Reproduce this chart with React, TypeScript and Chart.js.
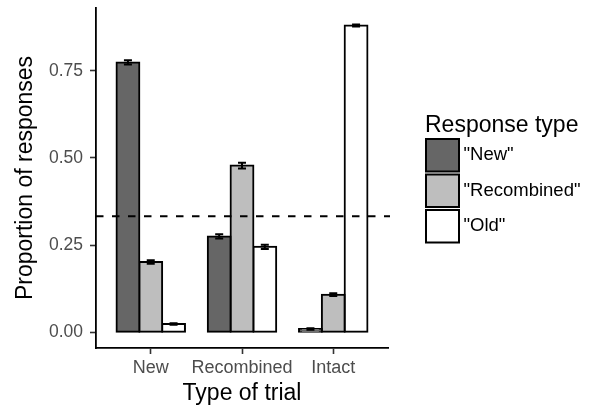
import React, { useEffect, useRef } from "react";
import { Chart, registerables } from "chart.js";

Chart.register(...registerables);

const CATEGORIES = ["New", "Recombined", "Intact"];
const SERIES_LABELS = ['"New"', '"Recombined"', '"Old"'];
const NEW_VALUES = [0.774, 0.275, 0.0095];
const RECOMBINED_VALUES = [0.2015, 0.478, 0.108];
const OLD_VALUES = [0.024, 0.245, 0.88];
const NEW_ERRORS = [0.006, 0.006, 0.002];
const RECOMBINED_ERRORS = [0.005, 0.008, 0.004];
const OLD_ERRORS = [0.002, 0.006, 0.003];
const Y_TICKS = [0, 0.25, 0.5, 0.75];
const CHANCE_LEVEL = 0.333;
const SERIES_COLORS = ["#666666", "#BEBEBE", "#FFFFFF"];

const FONT = "'Liberation Sans', Arial, sans-serif";
const BORDER_W = 2;

const hlinePlugin = {
  id: "chanceLine",
  afterDatasetsDraw(chart: any) {
    const { ctx, chartArea } = chart;
    const y = chart.scales.y.getPixelForValue(CHANCE_LEVEL);
    ctx.save();
    ctx.strokeStyle = "#000";
    ctx.lineWidth = 2;
    ctx.setLineDash([7.5, 8.5]);
    ctx.beginPath();
    ctx.moveTo(chartArea.left, y);
    ctx.lineTo(chartArea.right + 2, y);
    ctx.stroke();
    ctx.restore();
  },
};

const errorBarPlugin = {
  id: "errorBars",
  afterDatasetsDraw(chart: any) {
    const { ctx } = chart;
    const yScale = chart.scales.y;
    chart.data.datasets.forEach((ds: any, i: number) => {
      const meta = chart.getDatasetMeta(i);
      meta.data.forEach((bar: any, j: number) => {
        const v = ds.data[j].y;
        const e = ds.errors[j];
        const top = yScale.getPixelForValue(v + e);
        const bot = yScale.getPixelForValue(v - e);
        const hw = 4;
        ctx.save();
        ctx.strokeStyle = "#000";
        ctx.lineWidth = 2;
        ctx.beginPath();
        ctx.moveTo(bar.x, top);
        ctx.lineTo(bar.x, bot);
        ctx.moveTo(bar.x - hw, top);
        ctx.lineTo(bar.x + hw, top);
        ctx.moveTo(bar.x - hw, bot);
        ctx.lineTo(bar.x + hw, bot);
        ctx.stroke();
        ctx.restore();
      });
    });
  },
};

const legendPlugin = {
  id: "ggLegend",
  afterDraw(chart: any) {
    const { ctx } = chart;
    ctx.save();
    ctx.fillStyle = "#000";
    ctx.textAlign = "left";
    ctx.textBaseline = "alphabetic";
    ctx.font = `23px ${FONT}`;
    ctx.fillText("Response type", 425, 131.5);
    const keyX = 425;
    const keyW = 35;
    const keyTop = 137.5;
    const keyH = 35.5;
    chart.data.datasets.forEach((ds: any, i: number) => {
      const y0 = keyTop + i * keyH;
      ctx.fillStyle = ds.backgroundColor;
      ctx.fillRect(keyX + 1, y0 + 1.5, keyW - 2, keyH - 3);
      ctx.lineWidth = 2;
      ctx.strokeStyle = "#000";
      ctx.strokeRect(keyX + 1, y0 + 1.5, keyW - 2, keyH - 3);
      ctx.fillStyle = "#000";
      ctx.font = `18.5px ${FONT}`;
      ctx.textBaseline = "middle";
      ctx.fillText(ds.label, 463.5, y0 + keyH / 2);
    });
    ctx.restore();
  },
};

export default function App() {
  const canvasRef = useRef<HTMLCanvasElement | null>(null);

  useEffect(() => {
    if (!canvasRef.current) return;
    const valueSets = [NEW_VALUES, RECOMBINED_VALUES, OLD_VALUES];
    const errorSets = [NEW_ERRORS, RECOMBINED_ERRORS, OLD_ERRORS];
    const datasets = SERIES_LABELS.map((label, i) => ({
      label,
      data: valueSets[i].map((v, j) => ({ x: j + 1, y: v })),
      errors: errorSets[i],
      backgroundColor: SERIES_COLORS[i],
      borderColor: "#000",
      borderWidth: BORDER_W,
      borderSkipped: false,
      inflateAmount: BORDER_W / 2,
      categoryPercentage: 0.75,
      barPercentage: 1,
    }));

    const chart = new Chart(canvasRef.current, {
      type: "bar",
      data: { datasets } as any,
      options: {
        animation: false,
        responsive: false,
        devicePixelRatio: 1,
        layout: { padding: { left: 0, top: 8, right: 202, bottom: 0 } },
        plugins: {
          legend: { display: false },
          tooltip: { enabled: false },
        },
        scales: {
          x: {
            type: "linear",
            min: 0.4,
            max: 3.6,
            offset: false,
            afterBuildTicks: (s: any) => {
              s.ticks = CATEGORIES.map((_, i) => ({ value: i + 1 }));
            },
            afterFit: (s: any) => {
              s.height = 60;
              s.paddingLeft = 0;
              s.paddingRight = 0;
            },
            grid: {
              display: true,
              offset: false,
              drawOnChartArea: false,
              drawTicks: true,
              tickLength: 6,
              tickColor: "#333333",
              tickWidth: 1.6,
            },
            border: { display: true, color: "#000", width: 1.8 },
            ticks: {
              color: "#4D4D4D",
              font: { family: FONT, size: 18 },
              padding: 3,
              maxRotation: 0,
              autoSkip: false,
              callback: (v: any) => CATEGORIES[Math.round(Number(v)) - 1] ?? "",
            },
            title: {
              display: true,
              text: "Type of trial",
              color: "#000",
              font: { family: FONT, size: 23 },
              padding: { top: 0, bottom: 0.7 },
            },
          },
          y: {
            type: "linear",
            min: -0.045,
            max: 0.93,
            afterBuildTicks: (s: any) => {
              s.ticks = Y_TICKS.map((v) => ({ value: v }));
            },
            afterFit: (s: any) => {
              s.width = 96;
              s.paddingTop = 0;
              s.paddingBottom = 0;
            },
            grid: {
              display: true,
              drawOnChartArea: false,
              drawTicks: true,
              tickLength: 6,
              tickColor: "#333333",
              tickWidth: 1.6,
            },
            border: { display: true, color: "#000", width: 1.8 },
            ticks: {
              color: "#4D4D4D",
              font: { family: FONT, size: 17.5 },
              padding: 7,
              callback: (v: any) => Number(v).toFixed(2),
            },
            title: {
              display: true,
              text: "Proportion of responses",
              color: "#000",
              font: { family: FONT, size: 23 },
              padding: { top: 11.7, bottom: 0 },
            },
          },
        },
      } as any,
      plugins: [hlinePlugin, errorBarPlugin, legendPlugin],
    });
    return () => chart.destroy();
  }, []);

  return (
    <div style={{ position: "absolute", left: 0, top: 0, width: 590, height: 408, background: "#fff" }}>
      <canvas ref={canvasRef} width={590} height={408} style={{ display: "block" }} />
    </div>
  );
}
